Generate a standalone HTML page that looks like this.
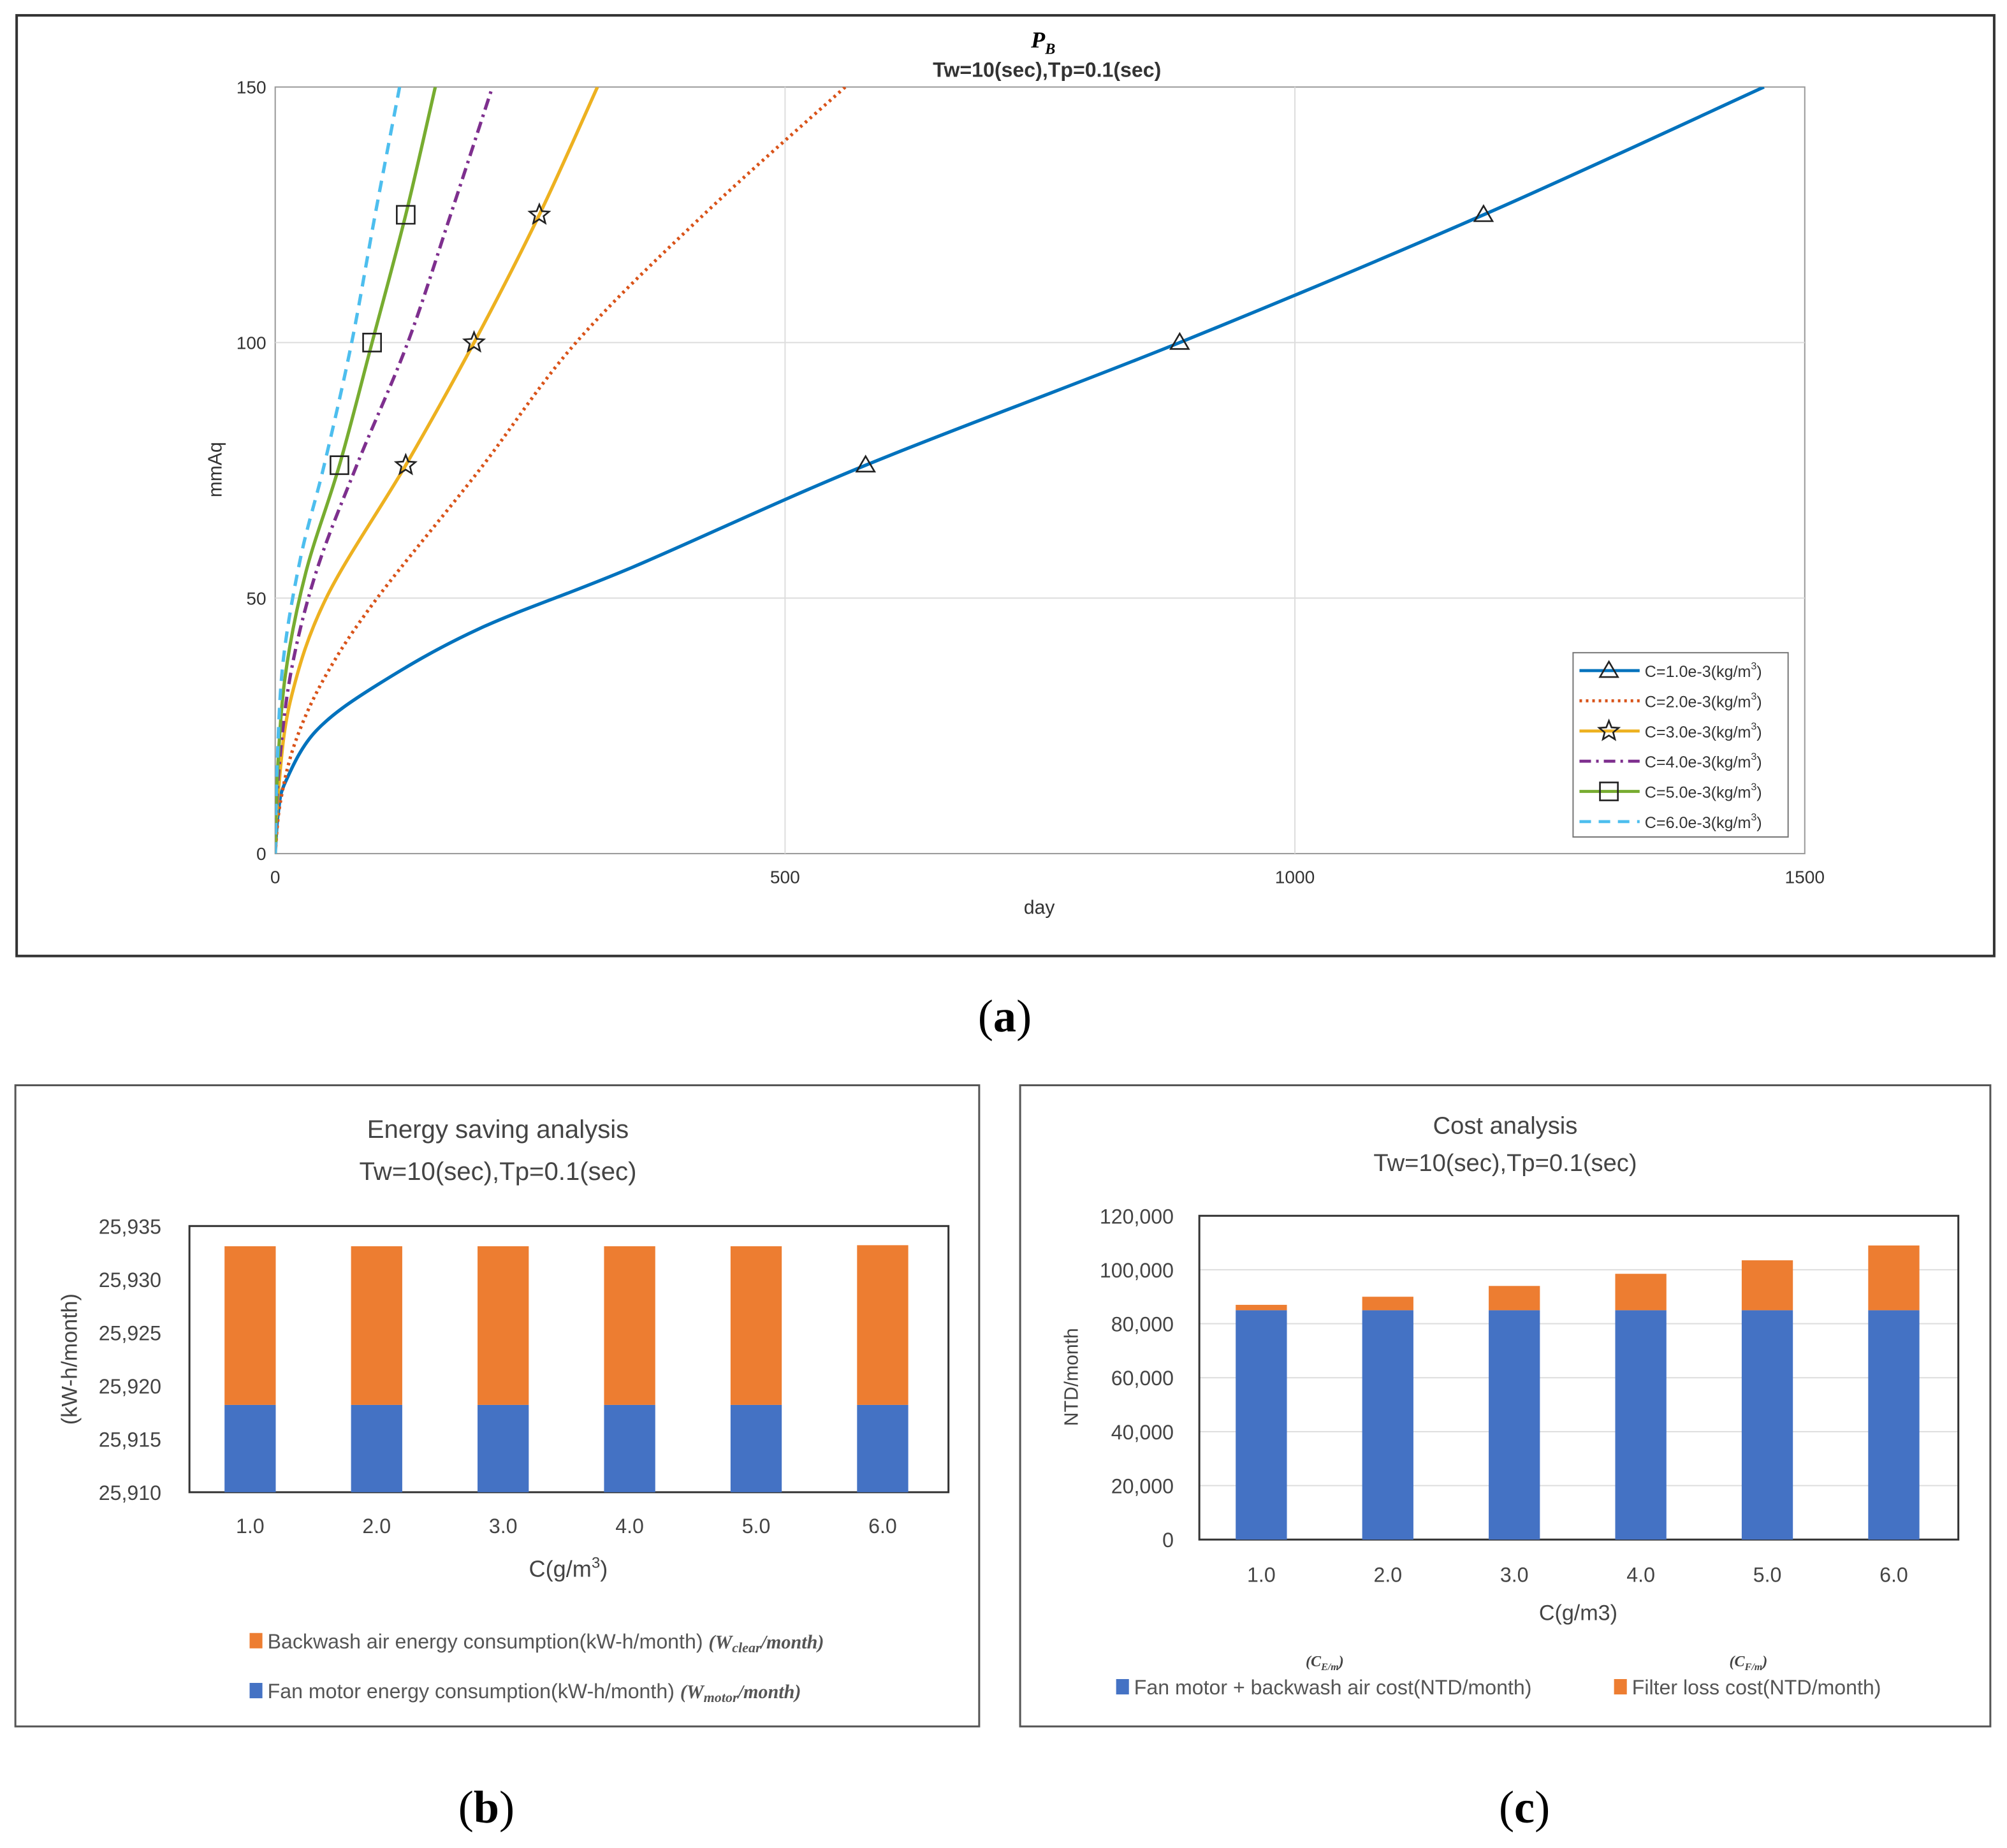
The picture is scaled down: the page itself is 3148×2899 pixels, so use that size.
<!DOCTYPE html>
<html><head><meta charset="utf-8"><style>
html,body{margin:0;padding:0;background:#fff}
svg{display:block}
text{font-family:"Liberation Sans",sans-serif}
.serif{font-family:"Liberation Serif",serif}
</style></head><body>
<svg id="s" xmlns="http://www.w3.org/2000/svg" width="3148" height="2899" viewBox="0 0 1568 1444">
<rect x="0" y="0" width="1568" height="1444" fill="#fff"/>
<g id="pa">
<rect x="13" y="12" width="1545" height="735" fill="#fff" stroke="#333" stroke-width="2"/>
<text x="815" y="37" text-anchor="middle" font-size="18" font-style="italic" font-weight="bold" class="serif">P<tspan font-size="12" dy="5">B</tspan></text>
<text x="818" y="60" text-anchor="middle" font-size="16" font-weight="bold" fill="#333">Tw=10(sec),Tp=0.1(sec)</text>
<text x="812" y="714" text-anchor="middle" font-size="15" fill="#333">day</text>
<text transform="translate(173,367) rotate(-90)" text-anchor="middle" font-size="15" fill="#333">mmAq</text>
</g>
<g id="pb">
<rect x="12" y="848" width="753" height="501" fill="#fff" stroke="#555" stroke-width="1.5"/>
<text x="389" y="889" text-anchor="middle" font-size="20" fill="#444">Energy saving analysis</text>
<text x="389" y="922" text-anchor="middle" font-size="20" fill="#444">Tw=10(sec),Tp=0.1(sec)</text>
<text x="444" y="1232" text-anchor="middle" font-size="18" fill="#444">C(g/m<tspan font-size="12" dy="-7">3</tspan><tspan dy="7">)</tspan></text>
<text transform="translate(60,1062) rotate(-90)" text-anchor="middle" font-size="17" fill="#444">(kW-h/month)</text>
<rect x="195" y="1276" width="10" height="12" fill="#ED7D31"/>
<text x="209" y="1288" font-size="16" fill="#555">Backwash air energy consumption(kW-h/month)  <tspan font-style="italic" font-weight="bold" class="serif" font-size="15">(W<tspan font-size="11" dy="3">clear</tspan><tspan dy="-3">/month)</tspan></tspan></text>
<rect x="195" y="1315" width="10" height="12" fill="#4472C4"/>
<text x="209" y="1327" font-size="16" fill="#555">Fan motor energy consumption(kW-h/month)  <tspan font-style="italic" font-weight="bold" class="serif" font-size="15">(W<tspan font-size="11" dy="3">motor</tspan><tspan dy="-3">/month)</tspan></tspan></text>
</g>
<g id="pc">
<rect x="797" y="848" width="758" height="501" fill="#fff" stroke="#555" stroke-width="1.5"/>
<text x="1176" y="886" text-anchor="middle" font-size="19" fill="#444">Cost analysis</text>
<text x="1176" y="915" text-anchor="middle" font-size="19" fill="#444">Tw=10(sec),Tp=0.1(sec)</text>
<text x="1233" y="1266" text-anchor="middle" font-size="17" fill="#444">C(g/m3)</text>
<text transform="translate(842,1076) rotate(-90)" text-anchor="middle" font-size="15" fill="#444">NTD/month</text>
<text x="1035" y="1302" text-anchor="middle" font-size="12" font-style="italic" font-weight="bold" class="serif" fill="#444">(C<tspan font-size="8" dy="3">E/m</tspan><tspan dy="-3">)</tspan></text>
<text x="1366" y="1302" text-anchor="middle" font-size="12" font-style="italic" font-weight="bold" class="serif" fill="#444">(C<tspan font-size="8" dy="3">F/m</tspan><tspan dy="-3">)</tspan></text>
<rect x="872" y="1312" width="10" height="12" fill="#4472C4"/>
<text x="886" y="1324" font-size="16" fill="#555">Fan motor + backwash air cost(NTD/month)</text>
<rect x="1261" y="1312" width="10" height="12" fill="#ED7D31"/>
<text x="1275" y="1324" font-size="16" fill="#555">Filter loss cost(NTD/month)</text>
</g>
<text x="785" y="806" text-anchor="middle" font-size="36" class="serif">(<tspan font-weight="bold">a</tspan>)</text>
<text x="380" y="1424" text-anchor="middle" font-size="36" class="serif">(<tspan font-weight="bold">b</tspan>)</text>
<text x="1191" y="1424" text-anchor="middle" font-size="36" class="serif">(<tspan font-weight="bold">c</tspan>)</text>
</svg>
<script>
// ---- panel (a) data ----
const aXTicks=[0,500,1000,1500];
const aYTicks=[0,50,100,150];
const aNames=["C=1.0e-3(kg/m","C=2.0e-3(kg/m","C=3.0e-3(kg/m","C=4.0e-3(kg/m","C=5.0e-3(kg/m","C=6.0e-3(kg/m"];
const s1Day=[0,3,10,40,100,200,350,579,887,1185,1460];
const s1Val=[0,8,14,24,33,44,56,76,100,125,150];
const s2Day=[0,5,20,50,100,200,295,420,559];
const s2Val=[0,10,22,35,50,75,100,125,150];
const s3Day=[0,3,15,50,128,195,259,316];
const s3Val=[0,12,30,50,76,100,125,150];
const s4Day=[0,3,15,40,80,130,172,213];
const s4Val=[0,15,35,55,76,100,125,150];
const s5Day=[0,2,10,30,63,95,128,157];
const s5Val=[0,15,35,55,76,100,125,150];
const s6Day=[0,2,8,25,48,75,98,122];
const s6Val=[0,18,38,58,76,100,125,150];
const s1MarkDay=[579,887,1185], s1MarkVal=[76,100,125];
const s3MarkDay=[128,195,259], s3MarkVal=[76,100,125];
const s5MarkDay=[63,95,128], s5MarkVal=[76,100,125];
// ---- panel (b) data ----
const bCats=["1.0","2.0","3.0","4.0","5.0","6.0"];
const bMotor=[25918.2,25918.2,25918.2,25918.2,25918.2,25918.2];
const bTotal=[25933.1,25933.1,25933.1,25933.1,25933.1,25933.2];
const bTicks=[25910,25915,25920,25925,25930,25935];
// ---- panel (c) data ----
const cCats=["1.0","2.0","3.0","4.0","5.0","6.0"];
const cFan=[85000,85000,85000,85000,85000,85000];
const cTotal=[87000,90000,94000,98500,103500,109000];
const cTicks=[0,20000,40000,60000,80000,100000,120000];

const NS="http://www.w3.org/2000/svg";
function mk(parent,tag,attrs,txt){const e=document.createElementNS(NS,tag);for(const k in attrs)e.setAttribute(k,attrs[k]);if(txt!==undefined)e.textContent=txt;parent.appendChild(e);return e;}
const fmt=n=>n.toLocaleString('en-US');

// panel a
(function(){
const g=document.getElementById('pa');
const L=215,R=1410,T=68,B=667;
const xs=d=>L+d/1500*(R-L), ys=v=>B-v/150*(B-T);
mk(g,'rect',{x:L,y:T,width:R-L,height:B-T,fill:'#fff',stroke:'#999','stroke-width':1});
aXTicks.forEach(t=>{
 if(t>0&&t<1500){const l=mk(g,'line',{x1:xs(t),x2:xs(t),y1:T,y2:B,stroke:'#ddd','stroke-width':1});}
 const tx=mk(g,'text',{x:xs(t),y:B+23,'text-anchor':'middle','font-size':14,fill:'#333'},t);
 
});
aYTicks.forEach(t=>{
 if(t>0&&t<150){const l=mk(g,'line',{x1:L,x2:R,y1:ys(t),y2:ys(t),stroke:'#ddd','stroke-width':1});}
 const tx=mk(g,'text',{x:L-7,y:ys(t)+5,'text-anchor':'end','font-size':14,fill:'#333'},t);
 
});
const clip=mk(g,'clipPath',{id:'ca'});mk(clip,'rect',{x:L,y:T,width:R-L,height:B-T});
function path(ds,vs){const p=ds.map((d,i)=>[xs(d),ys(vs[i])]);let s=`M${p[0][0]},${p[0][1]}`;
 for(let i=0;i<p.length-1;i++){const p0=p[Math.max(0,i-1)],p1=p[i],p2=p[i+1],p3=p[Math.min(p.length-1,i+2)];
 const c1=[p1[0]+(p2[0]-p0[0])/6,p1[1]+(p2[1]-p0[1])/6],c2=[p2[0]-(p3[0]-p1[0])/6,p2[1]-(p3[1]-p1[1])/6];
 s+=` C${c1[0]},${c1[1]} ${c2[0]},${c2[1]} ${p2[0]},${p2[1]}`;}return s;}
const series=[[s1Day,s1Val,'#0072BD',''],[s2Day,s2Val,'#D95319','2 3'],[s3Day,s3Val,'#EDB120',''],[s4Day,s4Val,'#7E2F8E','9 4 2 4'],[s5Day,s5Val,'#77AC30',''],[s6Day,s6Val,'#4DBEEE','9 6']];
series.forEach((s,i)=>{const p=mk(g,'path',{d:path(s[0],s[1]),fill:'none',stroke:s[2],'stroke-width':2.6,'stroke-dasharray':s[3],'clip-path':'url(#ca)'});
 });
function tri(x,y){return `M${x},${y-7} L${x+7},${y+5} L${x-7},${y+5} Z`;}
function sq(x,y){return `M${x-7},${y-7} h14 v14 h-14 Z`;}
function star(x,y){let s='';for(let k=0;k<10;k++){const r=k%2?3.5:8,a=-Math.PI/2+k*Math.PI/5;s+=(k?'L':'M')+(x+r*Math.cos(a))+','+(y+r*Math.sin(a));}return s+'Z';}
s1MarkDay.forEach((d,i)=>{const m=mk(g,'path',{d:tri(xs(d),ys(s1MarkVal[i])),fill:'none',stroke:'#222','stroke-width':1.3});});
s3MarkDay.forEach((d,i)=>{const m=mk(g,'path',{d:star(xs(d),ys(s3MarkVal[i])),fill:'none',stroke:'#222','stroke-width':1.3});});
s5MarkDay.forEach((d,i)=>{const m=mk(g,'path',{d:sq(xs(d),ys(s5MarkVal[i])),fill:'none',stroke:'#222','stroke-width':1.3});});
// legend
const lg=mk(g,'g',{});
mk(lg,'rect',{x:1229,y:510,width:168,height:144,fill:'#fff',stroke:'#777','stroke-width':1});
const mfn=[tri,null,star,null,sq,null];
series.forEach((s,i)=>{const y=524+i*23.6;
 const l=mk(lg,'line',{x1:1234,x2:1281,y1:y,y2:y,stroke:s[2],'stroke-width':2.4,'stroke-dasharray':s[3]});
 
 if(mfn[i]){const m=mk(lg,'path',{d:mfn[i](1257,y),fill:'none',stroke:'#222','stroke-width':1.3});}
 const t=mk(lg,'text',{x:1285,y:y+5,'font-size':12.5,fill:'#333'});
 
 t.textContent=aNames[i];mk(t,'tspan',{'font-size':8,dy:-6},'3');mk(t,'tspan',{dy:6},')');
});
})();

// panel b
(function(){
const g=document.getElementById('pb');
const L=148,R=741,T=958,B=1166,lo=25910,hi=25935;
const ys=v=>B-(v-lo)/(hi-lo)*(B-T);
mk(g,'rect',{x:L,y:T,width:R-L,height:B-T,fill:'none',stroke:'#333','stroke-width':1.5});
bTicks.forEach(t=>{const tx=mk(g,'text',{x:L-22,y:ys(t)+6,'text-anchor':'end','font-size':16,fill:'#444'},fmt(t));
 });
const step=(R-L)/bCats.length;
bCats.forEach((c,i)=>{const cx=L+step*(i+0.5)-2;
 const b1=mk(g,'rect',{x:cx-20,y:ys(bMotor[i]),width:40,height:B-ys(bMotor[i]),fill:'#4472C4'});
 
 const b2=mk(g,'rect',{x:cx-20,y:ys(bTotal[i]),width:40,height:ys(bMotor[i])-ys(bTotal[i]),fill:'#ED7D31'});
 
 const tx=mk(g,'text',{x:cx,y:1198,'text-anchor':'middle','font-size':16,fill:'#444'},c);
 });
})();

// panel c
(function(){
const g=document.getElementById('pc');
const L=937,R=1530,T=950,B=1203,hi=120000;
const ys=v=>B-v/hi*(B-T);
cTicks.forEach(t=>{const l=mk(g,'line',{x1:L,x2:R,y1:ys(t),y2:ys(t),stroke:'#ddd','stroke-width':1});
 
 const tx=mk(g,'text',{x:L-20,y:ys(t)+6,'text-anchor':'end','font-size':16,fill:'#444'},fmt(t));
 });
mk(g,'rect',{x:L,y:T,width:R-L,height:B-T,fill:'none',stroke:'#333','stroke-width':1.5});
const step=(R-L)/cCats.length;
cCats.forEach((c,i)=>{const cx=L+step*(i+0.5)-1;
 const b1=mk(g,'rect',{x:cx-20,y:ys(cFan[i]),width:40,height:B-ys(cFan[i]),fill:'#4472C4'});
 
 const b2=mk(g,'rect',{x:cx-20,y:ys(cTotal[i]),width:40,height:ys(cFan[i])-ys(cTotal[i]),fill:'#ED7D31'});
 
 const tx=mk(g,'text',{x:cx,y:1236,'text-anchor':'middle','font-size':16,fill:'#444'},c);
 });
})();
</script>
</body></html>
